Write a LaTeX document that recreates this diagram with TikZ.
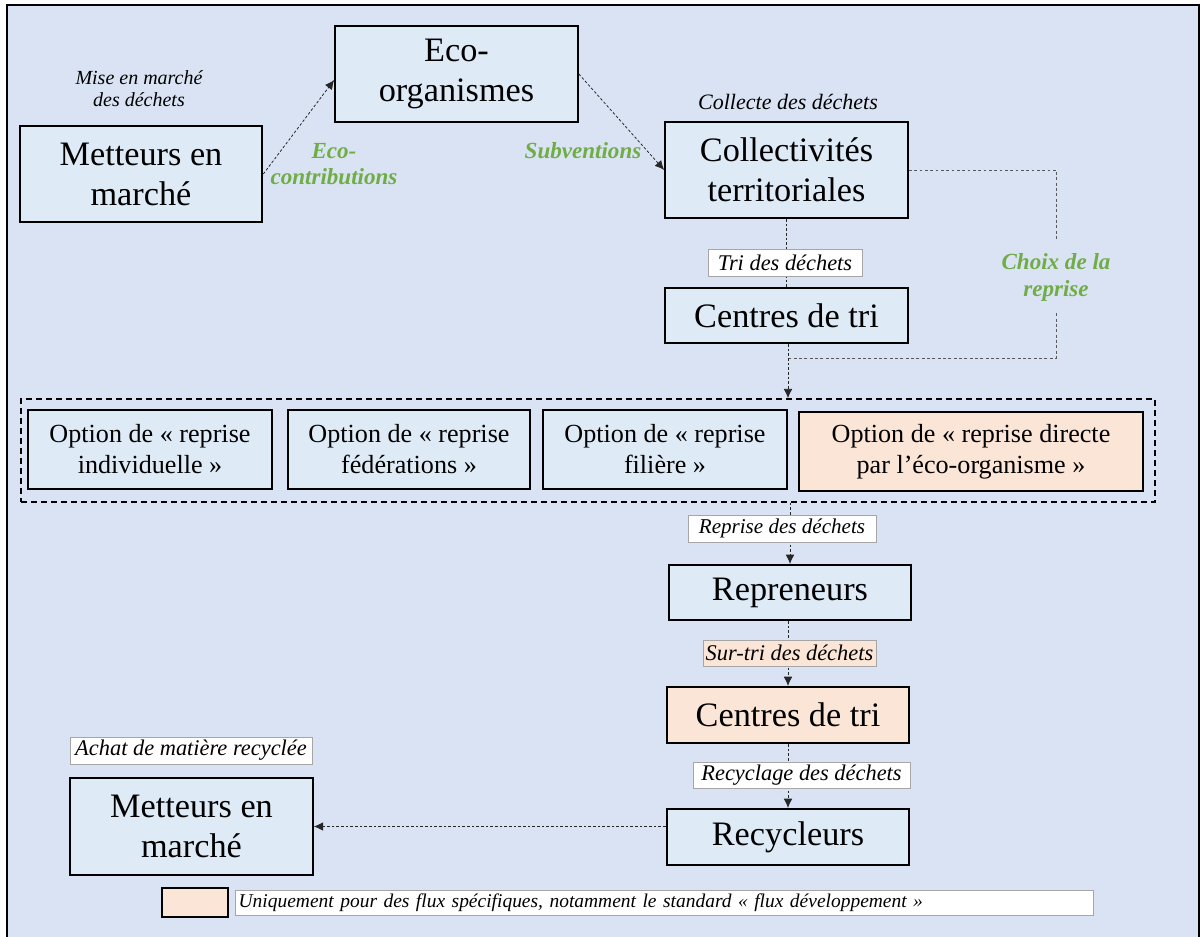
\documentclass[tikz,border=0pt]{standalone}
\usepackage{fontspec}
\setmainfont{Liberation Serif}
\usetikzlibrary{arrows.meta,calc}
\definecolor{bgcol}{HTML}{DAE3F3}
\definecolor{boxfill}{HTML}{DEEBF7}
\definecolor{orangefill}{HTML}{FBE5D6}
\definecolor{greentxt}{HTML}{70AD47}
\definecolor{lblborder}{HTML}{A6A6A6}
\begin{document}
\begin{tikzpicture}[x=0.75pt,y=-0.75pt,
  mainbox/.style={draw=black,line width=1.5pt,fill=boxfill,inner sep=0pt,align=center,
    minimum width=182pt,font=\fontsize{25.7}{30}\selectfont},
  optbox/.style={draw=black,line width=1.1pt,fill=boxfill,inner sep=0pt,align=center,
    minimum height=59.25pt,font=\fontsize{19.6}{23.25}\selectfont},
  lbl/.style={draw=lblborder,line width=0.5pt,fill=white,inner sep=0pt,
    font=\fontsize{16.8}{20}\selectfont\itshape},
  note/.style={inner sep=0pt,align=center,font=\fontsize{15}{16.5}\selectfont\itshape},
  greenlbl/.style={inner sep=0pt,align=center,text=greentxt,
    font=\fontsize{17.3}{19.5}\selectfont\bfseries\itshape},
  flow/.style={draw=black!85,line width=0.6pt,dash pattern=on 2pt off 1.5pt},
  arr/.style={flow,-{Latex[length=7pt,width=6.5pt]}},
  choixline/.style={draw=black!65,line width=0.6pt,dash pattern=on 2.2pt off 1.8pt},
]
\useasboundingbox (0,0) rectangle (1204,937);
% background and frame
\fill[white] (0,0) rectangle (1204,937);
\draw[fill=bgcol,line width=1.5pt] (7,5) rectangle (1199,940);

% main boxes
\node[mainbox,minimum height=72pt] (m1) at (141,174) {Metteurs en\\marché};
\node[mainbox,minimum height=72pt] (eco) at (456.5,74) {Eco-\\organismes};
\node[mainbox,minimum height=72pt] (coll) at (786.5,170) {Collectivités\\territoriales};
\node[mainbox,minimum height=41.25pt] (ct1) at (786.5,315.5) {Centres de tri};

% options container
\node[draw=black,line width=1.1pt,dash pattern=on 4.5pt off 3pt,minimum width=850.5pt,
  minimum height=77.25pt,inner sep=0pt] (opts) at (588,450.5) {};
\node[optbox,minimum width=183pt] (o1) at (150,449.5) {Option de « reprise\\individuelle »};
\node[optbox,minimum width=181.5pt] (o2) at (409,449.5) {Option de « reprise\\fédérations »};
\node[optbox,minimum width=183pt] (o3) at (665,449.5) {Option de « reprise\\filière »};
\node[optbox,minimum width=258pt,fill=orangefill] (o4) at (971,451.5) {Option de « reprise directe\\par l’éco-organisme »};

\node[mainbox,minimum height=41.25pt] (rep) at (790,592.5) {Repreneurs};
\node[mainbox,minimum height=42pt,fill=orangefill] (ct2) at (788,715) {Centres de tri};
\node[mainbox,minimum height=42pt] (rec) at (788,837) {Recycleurs};
\node[mainbox,minimum height=72.75pt] (m2) at (191.5,826.5) {Metteurs en\\marché};

% free labels
\node[note] (mise) at (139,89) {Mise en marché\\des déchets};
\node[greenlbl] (ecoc) at (334,164) {Eco-\\contributions};
\node[greenlbl] (subv) at (583,151) {Subventions};
\node[note,font=\fontsize{16.5}{18}\selectfont\itshape] (coll-lbl) at (788,102) {Collecte des déchets};
\node[greenlbl,minimum height=54pt,font=\fontsize{17.3}{20.25}\selectfont\bfseries\itshape] (choix) at (1056,277) {Choix de la\\reprise};

% connectors
\draw[arr] (m1.east) -- ($(eco.west)+(0,6)$);
\draw[arr] (eco.east) -- (coll.west);
\draw[flow] (coll.south) -- (ct1.north);
\coordinate (j) at (788,358);
\draw[choixline] (coll.east) -| (choix.north);
\draw[choixline] (choix.south) |- (j);
\draw[arr] (ct1.south -| j) -- (j |- opts.north);
\draw[arr] (opts.south -| rep.north) -- (rep.north);
\draw[arr] (ct2.north |- rep.south) -- (ct2.north);
\draw[arr] (ct2.south) -- (rec.north);
\draw[arr] (rec.west |- m2.east) -- (m2.east);

% labels on connectors
\node[lbl,minimum width=115.5pt,minimum height=20.25pt] (tri) at (785,262.5) {Tri des déchets};
\node[lbl,minimum width=141pt,minimum height=20.25pt,font=\fontsize{15.8}{18}\selectfont\itshape] (repl) at (782,528.5) {Reprise des déchets};
\node[lbl,fill=orangefill,minimum width=129.75pt,minimum height=19.5pt] (surtri) at (789.5,653) {Sur-tri des déchets};
\node[lbl,minimum width=162.75pt,minimum height=19.5pt] (recl) at (801.5,775) {Recyclage des déchets};
\node[lbl,minimum width=181.5pt,minimum height=20.25pt] (achat) at (191,750.5) {Achat de matière recyclée};

% legend
\node[draw=black,line width=1.1pt,fill=orangefill,minimum width=49.5pt,minimum height=21.75pt,inner sep=0pt] (swatch) at (195,902.5) {};
\node[lbl,anchor=west,inner xsep=2.5pt,text width=638.5pt,align=left,minimum height=18.75pt,
  font=\fontsize{14.6}{16}\selectfont\itshape] (legend) at (235,902.5)
  {Uniquement pour des flux spécifiques, notamment le standard « flux développement »};
\end{tikzpicture}
\end{document}
